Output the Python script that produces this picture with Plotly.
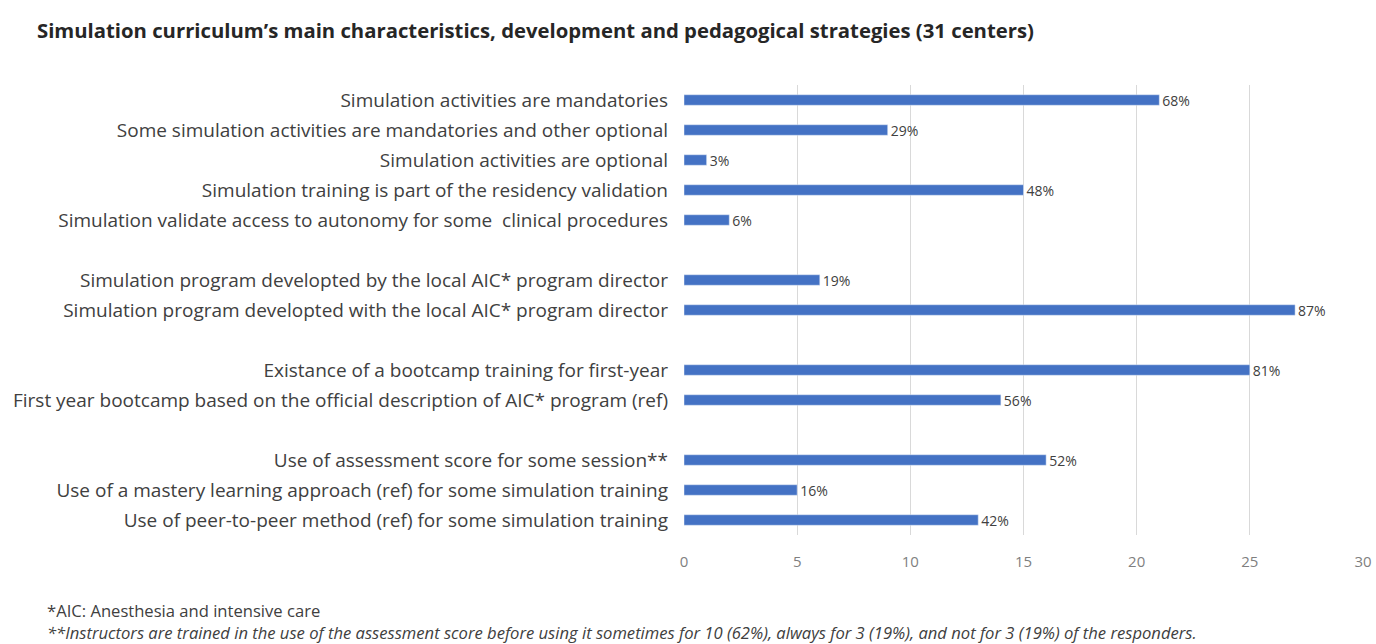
import plotly.graph_objects as go

# items (blank strings = spacing between groups)
labels = [
    "Simulation activities are mandatories",
    "Some simulation activities are mandatories and other optional",
    "Simulation activities are optional",
    "Simulation training is part of the residency validation",
    "Simulation validate access to autonomy for some  clinical procedures",
    " ",
    "Simulation program developted by the local AIC* program director",
    "Simulation program developted with the local AIC* program director",
    "  ",
    "Existance of a bootcamp training for first-year",
    "First year bootcamp based on the official description of AIC* program (ref)",
    "   ",
    "Use of assessment score for some session**",
    "Use of a mastery learning approach (ref) for some simulation training",
    "Use of peer-to-peer method (ref) for some simulation training",
]
counts = [21, 9, 1, 15, 2, None, 6, 27, None, 25, 14, None, 16, 5, 13]
pct_labels = ["68%", "29%", "3%", "48%", "6%", "", "19%", "87%", "", "81%", "56%", "", "52%", "16%", "42%"]
x_ticks = [0, 5, 10, 15, 20, 25, 30]

title = "<b>Simulation curriculum’s main characteristics, development and pedagogical strategies (31 centers)</b>"
note1 = "*AIC: Anesthesia and intensive care"
note2 = ("<i>**Instructors are trained in the use of the assessment score before using it sometimes "
         "for 10 (62%), always for 3 (19%), and not for 3 (19%) of the responders.</i>")

W, H = 1376, 644
L, R, T, B = 684, 13, 85, 109
pw, ph = W - L - R, H - T - B

fig = go.Figure()
fig.add_trace(go.Bar(
    y=labels,
    x=counts,
    orientation='h',
    marker=dict(color='#4472C4'),
    width=0.35,
    text=pct_labels,
    textposition='outside',
    constraintext='none',
    textfont=dict(size=14, color='#404040'),
    cliponaxis=False,
))

fig.update_layout(
    width=W, height=H,
    paper_bgcolor='white', plot_bgcolor='white',
    margin=dict(l=L, r=R, t=T, b=B),
    showlegend=False,
    font=dict(family="Open Sans", color='#404040'),
)
fig.update_xaxes(
    range=[0, 30], tickvals=x_ticks,
    showgrid=True, gridcolor='#D9D9D9', gridwidth=1,
    zeroline=False, showline=False, automargin=False,
    tickfont=dict(size=15, color='#7F7F7F'),
    ticks='', ticklen=0, ticklabelstandoff=16,
)
fig.update_yaxes(
    categoryorder='array', categoryarray=labels, autorange='reversed',
    showgrid=False, showline=False, ticks='', ticklen=0, automargin=False,
    tickfont=dict(size=19, color='#404040'),
    ticklabelstandoff=15,
)

fig.add_annotation(
    text=title, xref='paper', yref='paper',
    x=(35 - L) / pw, y=1 + (T - 30) / ph,
    xanchor='left', yanchor='middle', showarrow=False,
    font=dict(size=20.3, color='#262626'),
)
fig.add_annotation(
    text=note1 + "<br>" + note2, xref='paper', yref='paper',
    x=(45 - L) / pw, y=-86 / ph, align='left',
    xanchor='left', yanchor='middle', showarrow=False,
    font=dict(size=16.6, color='#404040'),
)

# drop the default body margin so the figure fills the window
fig.write_html(
    "out.html",
    config={"displayModeBar": False},
    post_script="document.body.style.margin='0';document.body.style.overflow='hidden';",
)
